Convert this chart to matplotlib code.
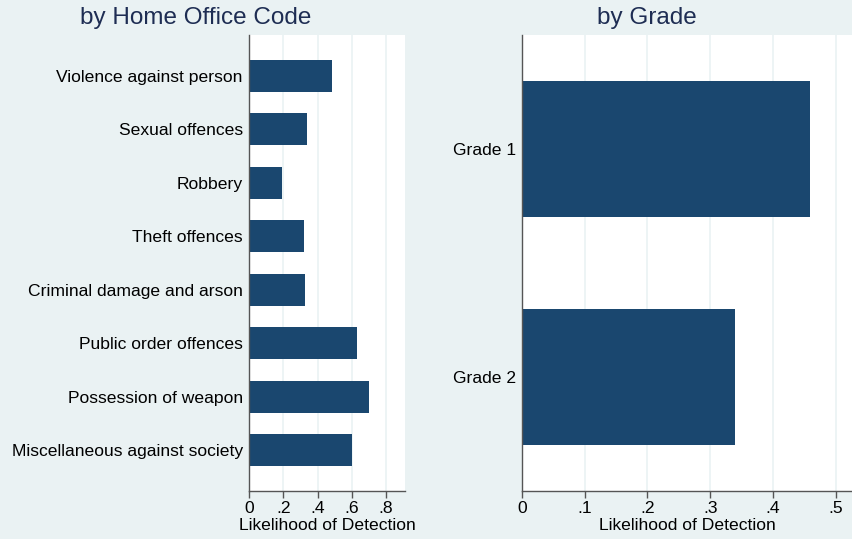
import numpy as np
import matplotlib
matplotlib.use('Agg')
import matplotlib.pyplot as plt

# data
offences = ["Violence against person", "Sexual offences", "Robbery", "Theft offences",
            "Criminal damage and arson", "Public order offences", "Possession of weapon",
            "Miscellaneous against society"]
offence_vals = [0.483, 0.336, 0.19, 0.323, 0.328, 0.632, 0.698, 0.60]
grades = ["Grade 1", "Grade 2"]
grade_vals = [0.459, 0.339]

left_ticks = [0, 0.2, 0.4, 0.6, 0.8]
left_ticklabels = ["0", ".2", ".4", ".6", ".8"]
right_ticks = [0, 0.1, 0.2, 0.3, 0.4, 0.5]
right_ticklabels = ["0", ".1", ".2", ".3", ".4", ".5"]

BG = "#eaf2f3"
BAR = "#1a476f"
TITLE = "#1e2d53"
FS = 12.6

plt.rcParams['font.family'] = ['Liberation Sans', 'DejaVu Sans']


def style(ax, ticks, labels):
    ax.set_facecolor("white")
    for s in ("top", "right"):
        ax.spines[s].set_visible(False)
    for s in ("left", "bottom"):
        ax.spines[s].set_color("#555555")
        ax.spines[s].set_linewidth(1.0)
    ax.set_xticks(ticks)
    ax.set_xticklabels(labels, fontsize=FS)
    ax.tick_params(axis="x", length=5, width=1, color="#555555", pad=2)
    ax.tick_params(axis="y", length=0, labelsize=FS, pad=4.5)
    ax.xaxis.grid(True, color=BG, linewidth=1.2)
    ax.set_axisbelow(True)
    ax.set_xlabel("Likelihood of Detection", fontsize=FS, labelpad=1.5)


def main():
    fig = plt.figure(figsize=(8.52, 5.39), dpi=100, facecolor=BG)
    H = 539.0
    W = 852.0

    ax1 = fig.add_axes([249 / W, 48 / H, (405 - 249) / W, (491 - 35) / H])
    pos = np.arange(1, len(offences) + 1)
    ax1.barh(pos, offence_vals, height=0.6, color=BAR)
    ax1.set_yticks(pos)
    ax1.set_yticklabels(offences)
    ax1.set_ylim(8.765, 0.235)
    ax1.set_xlim(0, 0.91)
    style(ax1, left_ticks, left_ticklabels)

    ax2 = fig.add_axes([522 / W, 48 / H, (852 - 522) / W, (491 - 35) / H])
    gpos = np.arange(1, len(grades) + 1)
    ax2.barh(gpos, grade_vals, height=0.6, color=BAR)
    ax2.set_yticks(gpos)
    ax2.set_yticklabels(grades)
    ax2.set_ylim(2.5, 0.5)
    ax2.set_xlim(0, 0.526)
    style(ax2, right_ticks, right_ticklabels)

    fig.text(196 / W, 1 - 18 / H, "by Home Office Code", ha="center", va="center",
             fontsize=17.5, color=TITLE)
    fig.text(647 / W, 1 - 18 / H, "by Grade", ha="center", va="center",
             fontsize=17.5, color=TITLE)

    fig.savefig("out.png", dpi=100, facecolor=BG)


if __name__ == "__main__":
    main()
